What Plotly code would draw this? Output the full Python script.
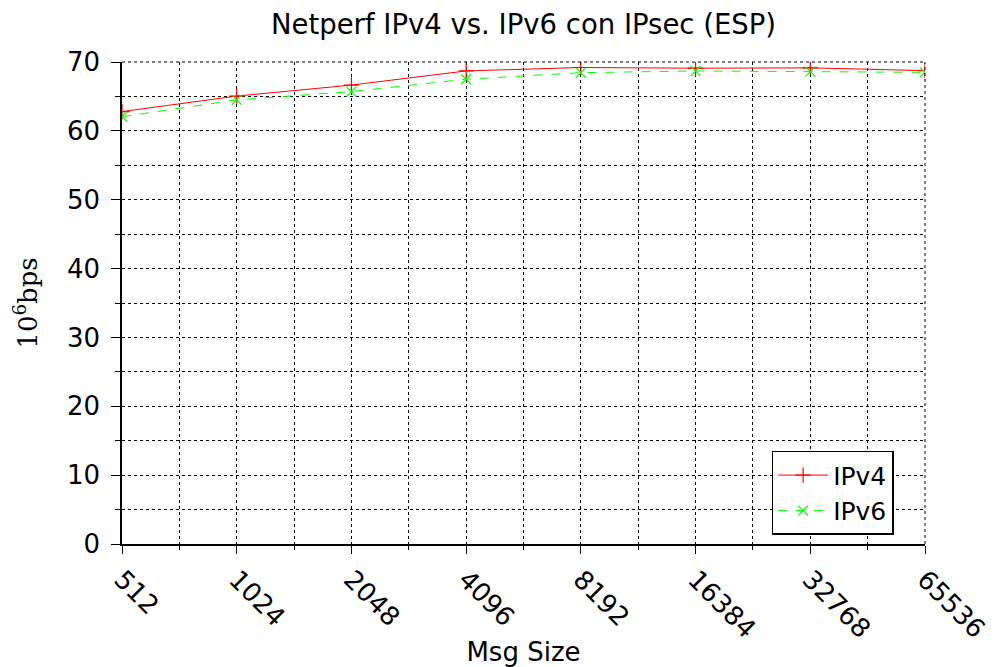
import math
import plotly.graph_objects as go

msg_sizes = [512, 1024, 2048, 4096, 8192, 16384, 32768, 65536]
tick_labels = ["512", "1024", "2048", "4096", "8192", "16384", "32768", "65536"]
ipv4 = [62.8, 65.05, 66.65, 68.7, 69.2, 69.1, 69.15, 68.75]
ipv6 = [62.05, 64.5, 65.7, 67.5, 68.45, 68.7, 68.6, 68.5]

minor_x = [math.sqrt(a * b) for a, b in zip(msg_sizes[:-1], msg_sizes[1:])]

font_sans = "'DejaVu Sans', sans-serif"

fig = go.Figure()
fig.add_trace(go.Scatter(
    x=msg_sizes, y=ipv4, name="IPv4", mode="lines+markers",
    line=dict(color="#ff0000", width=1),
    marker=dict(symbol="cross-thin", size=11, line=dict(color="#ff0000", width=1.2), color="#ff0000"),
))
fig.add_trace(go.Scatter(
    x=msg_sizes, y=ipv6, name="IPv6", mode="lines+markers",
    line=dict(color="#00ff00", width=1, dash="dash"),
    marker=dict(symbol="x-thin", size=10, line=dict(color="#00ff00", width=1.2), color="#00ff00"),
))

fig.update_layout(
    width=996, height=659,
    margin=dict(l=114, r=79, t=54, b=123, autoexpand=False),
    paper_bgcolor="white", plot_bgcolor="white",
    font=dict(family=font_sans, size=26, color="black"),
    title=dict(text="Netperf IPv4 vs. IPv6 con IPsec (ESP)", x=0.5, xref="paper", xanchor="center",
               y=0.99, yanchor="top", font=dict(size=27.5)),
    showlegend=True,
    legend=dict(x=0.809, y=0.019, xanchor="left", yanchor="bottom",
                bordercolor="black", borderwidth=1.5, bgcolor="white",
                font=dict(size=25), tracegroupgap=0, itemwidth=50),
)

fig.update_xaxes(
    type="log", range=[math.log10(512), math.log10(65536)],
    tickmode="array", tickvals=msg_sizes, ticktext=tick_labels, tickangle=45,
    ticks="outside", ticklen=8, tickwidth=1, tickcolor="black",
    showline=True, linecolor="black", linewidth=1.5, mirror=False,
    showgrid=True, gridcolor="black", griddash="dot", gridwidth=1,
    minor=dict(tickmode="array", tickvals=minor_x, ticks="outside", ticklen=4,
               tickcolor="black", showgrid=True, gridcolor="black", griddash="dot", gridwidth=1),
    title=dict(text="Msg Size", standoff=6, font=dict(size=26)),
    zeroline=False, automargin=False,
)
fig.update_yaxes(
    range=[0, 70], tickmode="linear", tick0=0, dtick=10,
    ticks="outside", ticklen=9, tickwidth=1, tickcolor="black",
    showline=True, linecolor="black", linewidth=1.5,
    showgrid=True, gridcolor="black", griddash="dot", gridwidth=1,
    minor=dict(dtick=5, ticks="outside", ticklen=5, tickcolor="black",
               showgrid=True, gridcolor="black", griddash="dot", gridwidth=1),
    title=dict(text="10<sup>6</sup>bps", standoff=22,
               font=dict(family="'DejaVu Serif', serif", size=26)),
    zeroline=False, automargin=False, ticklabelstandoff=6,
)

fig.add_shape(type="line", xref="paper", yref="paper", x0=0, x1=1, y0=1, y1=1,
              line=dict(color="black", width=1, dash="dot"))
fig.add_shape(type="line", xref="paper", yref="paper", x0=1, x1=1, y0=0, y1=1,
              line=dict(color="black", width=1, dash="dot"))

fig.write_html("out.html")
